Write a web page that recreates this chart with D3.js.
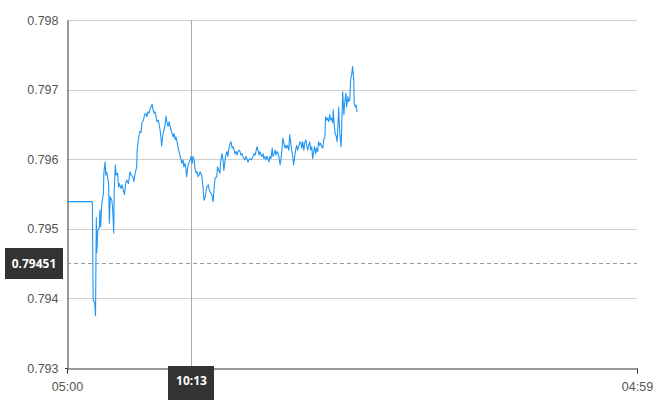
<!DOCTYPE html>
<html>
<head>
<meta charset="utf-8">
<script src="https://cdn.jsdelivr.net/npm/d3@7/dist/d3.min.js"></script>
<style>
  html, body { margin: 0; padding: 0; background: #fff; }
  svg { display: block; font-family: "Open Sans", "Noto Sans", sans-serif; }
</style>
</head>
<body>
<svg id="chart" width="670" height="400"></svg>
<script>
// Minutes after 05:00
const minutes = [
  0, 64, 66, 70, 72, 74, 75, 78, 82, 83, 85, 88, 92, 93, 96, 98, 100, 103, 105, 107,
  109, 113, 115, 118, 119, 122, 124, 128, 130, 132, 136, 139, 142, 145, 148, 151, 155, 159, 162, 166,
  169, 172, 176, 177, 181, 184, 187, 189, 193, 196, 199, 202, 204, 207, 210, 212, 215, 217, 220, 222,
  225, 227, 230, 232, 235, 237, 239, 242, 244, 247, 250, 252, 255, 258, 260, 263, 265, 268, 270, 273,
  275, 278, 280, 283, 285, 288, 290, 293, 295, 298, 300, 302, 305, 307, 311, 313, 316, 318, 321, 323,
  326, 328, 331, 333,
  336, 340, 343, 346, 349, 353, 357, 359, 363, 366, 369, 371, 374, 378, 380, 383, 386, 388, 391, 394,
  396, 399, 401, 404, 406, 409, 412, 414, 417, 419, 422, 424, 427, 429, 432, 434, 437, 439, 442, 444,
  447, 449, 452, 454, 457, 459, 462, 465, 467, 470, 472, 475, 477, 480, 482, 485, 487, 490, 492, 495,
  497, 500, 502, 505, 507, 510, 512, 515, 518, 520, 523, 525, 528, 530, 533, 535, 538, 540, 543, 545,
  547, 550, 552, 555, 557, 560, 562, 565, 567, 570, 572, 575, 577, 580, 582, 585, 587, 590, 593, 595,
  598, 600, 603, 605, 608, 610, 613, 615, 618, 620, 623, 625, 628, 630, 633, 635, 638, 640, 643, 646,
  648, 651, 653, 656, 658, 661, 663, 666, 668, 671, 672, 675, 677, 680, 682, 684, 686, 687, 689, 692,
  694, 696, 699, 701, 704, 706, 709, 711, 714, 716, 719, 721, 724, 725, 728, 730, 732
];
const prices = [
  0.79539, 0.79539, 0.79398, 0.79393, 0.79375, 0.79516, 0.79466, 0.79498, 0.79503, 0.79527, 0.79503, 0.79537, 0.79551, 0.79580, 0.79596, 0.79577, 0.79582, 0.79573, 0.79566, 0.79508,
  0.79546, 0.79541, 0.79532, 0.79494, 0.79551, 0.79592, 0.79577, 0.79580, 0.79560, 0.79565, 0.79558, 0.79563, 0.79556, 0.79549, 0.79565, 0.79570, 0.79565, 0.79582, 0.79577, 0.79575,
  0.79568, 0.79580, 0.79589, 0.79613, 0.79632, 0.79640, 0.79638, 0.79652, 0.79656, 0.79664, 0.79666, 0.79661, 0.79668, 0.79666, 0.79673, 0.79675, 0.79679, 0.79671, 0.79666, 0.79668,
  0.79661, 0.79654, 0.79656, 0.79652, 0.79642, 0.79632, 0.79619, 0.79635, 0.79640, 0.79647, 0.79662, 0.79654, 0.79647, 0.79654, 0.79647, 0.79642, 0.79637, 0.79632, 0.79637, 0.79628,
  0.79632, 0.79625, 0.79618, 0.79611, 0.79606, 0.79599, 0.79594, 0.79599, 0.79589, 0.79594, 0.79587, 0.79575, 0.79589, 0.79594, 0.79599, 0.79604, 0.79594, 0.79604, 0.79599, 0.79587,
  0.79580, 0.79582, 0.79575, 0.79577,
  0.79582, 0.79577, 0.79563, 0.79541, 0.79546, 0.79560, 0.79563, 0.79556, 0.79551, 0.79549, 0.79539, 0.79556, 0.79573, 0.79575, 0.79589, 0.79584, 0.79580, 0.79596, 0.79608, 0.79599,
  0.79584, 0.79599, 0.79606, 0.79611, 0.79604, 0.79616, 0.79623, 0.79625, 0.79616, 0.79618, 0.79613, 0.79608, 0.79611, 0.79606, 0.79611, 0.79613, 0.79611, 0.79606, 0.79608, 0.79604,
  0.79601, 0.79599, 0.79604, 0.79601, 0.79596, 0.79599, 0.79601, 0.79599, 0.79601, 0.79604, 0.79608, 0.79606, 0.79611, 0.79618, 0.79613, 0.79606, 0.79611, 0.79606, 0.79604, 0.79608,
  0.79601, 0.79604, 0.79599, 0.79604, 0.79601, 0.79596, 0.79604, 0.79601, 0.79616, 0.79604, 0.79608, 0.79613, 0.79606, 0.79611, 0.79608, 0.79604, 0.79592, 0.79599, 0.79616, 0.79630,
  0.79625, 0.79616, 0.79620, 0.79616, 0.79620, 0.79613, 0.79635, 0.79623, 0.79613, 0.79604, 0.79592, 0.79604, 0.79613, 0.79620, 0.79613, 0.79618, 0.79623, 0.79625, 0.79616, 0.79625,
  0.79613, 0.79623, 0.79628, 0.79620, 0.79613, 0.79620, 0.79625, 0.79613, 0.79618, 0.79601, 0.79611, 0.79618, 0.79608, 0.79616, 0.79611, 0.79625, 0.79620, 0.79623, 0.79618, 0.79616,
  0.79628, 0.79632, 0.79661, 0.79656, 0.79659, 0.79654, 0.79664, 0.79656, 0.79659, 0.79652, 0.79671, 0.79647, 0.79637, 0.79632, 0.79625, 0.79649, 0.79675, 0.79656, 0.79635, 0.79618,
  0.79656, 0.79697, 0.79664, 0.79680, 0.79695, 0.79675, 0.79690, 0.79683, 0.79685, 0.79714, 0.79723, 0.79733, 0.79714, 0.79680, 0.79675, 0.79678, 0.79668
];
const yTicks = [0.793, 0.794, 0.795, 0.796, 0.797, 0.798];
const xTickLabels = ["05:00", "04:59"];
const crosshairTime = "10:13";
const crosshairPrice = 0.79451;

const W = 670, H = 400;
const margin = { top: 20, right: 33, bottom: 32, left: 67 };
const svg = d3.select("#chart");

const start = new Date(2020, 0, 1, 5, 0);
const end = new Date(2020, 0, 2, 4, 59);
const addMin = m => new Date(start.getTime() + m * 60000);
const data = minutes.map((m, i) => ({ t: addMin(m), v: prices[i] }));

const x = d3.scaleTime().domain([start, end]).range([margin.left, W - margin.right]);
const y = d3.scaleLinear().domain([0.793, 0.798]).range([H - margin.bottom, margin.top]);

// gridlines
svg.append("g").selectAll("line").data(yTicks.filter(d => d !== 0.793)).join("line")
  .attr("x1", margin.left).attr("x2", W - margin.right)
  .attr("y1", d => Math.round(y(d)) + 0.5).attr("y2", d => Math.round(y(d)) + 0.5)
  .attr("stroke", "#cfcfcf").attr("stroke-width", 1);

// y axis
const yAxis = svg.append("g").attr("transform", `translate(${margin.left + 0.5},0)`)
  .call(d3.axisLeft(y).tickValues(yTicks).tickFormat(d3.format(".3f")).tickSize(0).tickPadding(9));
yAxis.select(".domain").attr("stroke", "#333");
yAxis.selectAll("text").attr("fill", "#555").style("font-size", "12.5px");

// x axis
const xTickDates = xTickLabels.map((s, i) => i === 0 ? start : end);
const xAxis = svg.append("g").attr("transform", `translate(0,${H - margin.bottom + 0.5})`)
  .call(d3.axisBottom(x).tickValues(xTickDates).tickFormat(d3.timeFormat("%H:%M")).tickSizeOuter(0).tickSize(5).tickPadding(9));
xAxis.select(".domain").attr("stroke", "#333");
xAxis.selectAll(".tick line").attr("stroke", "#333");
xAxis.selectAll("text").attr("fill", "#555").style("font-size", "12.5px");

// small tick at y-axis bottom
svg.append("line").attr("x1", margin.left - 2).attr("x2", margin.left + 0.5)
  .attr("y1", H - margin.bottom + 0.5).attr("y2", H - margin.bottom + 0.5).attr("stroke", "#333");

// crosshair
const parseT = d3.timeParse("%H:%M");
const ct = parseT(crosshairTime);
const cDate = new Date(2020, 0, 1, ct.getHours(), ct.getMinutes());
const cx = Math.round(x(cDate)) + 0.5;
svg.append("line").attr("x1", cx).attr("x2", cx).attr("y1", margin.top).attr("y2", H - margin.bottom)
  .attr("stroke", "#aaa").attr("stroke-width", 1);
const cy = Math.round(y(crosshairPrice)) + 0.5;
svg.append("line").attr("x1", margin.left).attr("x2", W - margin.right).attr("y1", cy).attr("y2", cy)
  .attr("stroke", "#999").attr("stroke-width", 1).attr("stroke-dasharray", "4,3");

// price line
const line = d3.line().x(d => x(d.t)).y(d => y(d.v)).curve(d3.curveLinear);
svg.append("path").datum(data).attr("d", line)
  .attr("fill", "none").attr("stroke", "#2196f3").attr("stroke-width", 1.1).attr("stroke-linejoin", "round");

// labels
const yl = svg.append("g");
yl.append("rect").attr("x", 5).attr("y", cy - 15.5).attr("width", 58).attr("height", 31).attr("fill", "#333");
yl.append("text").attr("x", 34).attr("y", cy).attr("dy", "0.35em").attr("text-anchor", "middle")
  .attr("fill", "#fff").style("font-size", "12px").style("font-weight", "bold").text(d3.format(".5f")(crosshairPrice));

const xl = svg.append("g");
xl.append("rect").attr("x", cx - 23.5).attr("y", H - margin.bottom - 2).attr("width", 46).attr("height", 36).attr("fill", "#333");
xl.append("text").attr("x", cx).attr("y", 381).attr("dy", "0.35em").attr("text-anchor", "middle")
  .attr("fill", "#fff").style("font-size", "12px").style("font-weight", "bold").text(crosshairTime);
</script>
</body>
</html>
